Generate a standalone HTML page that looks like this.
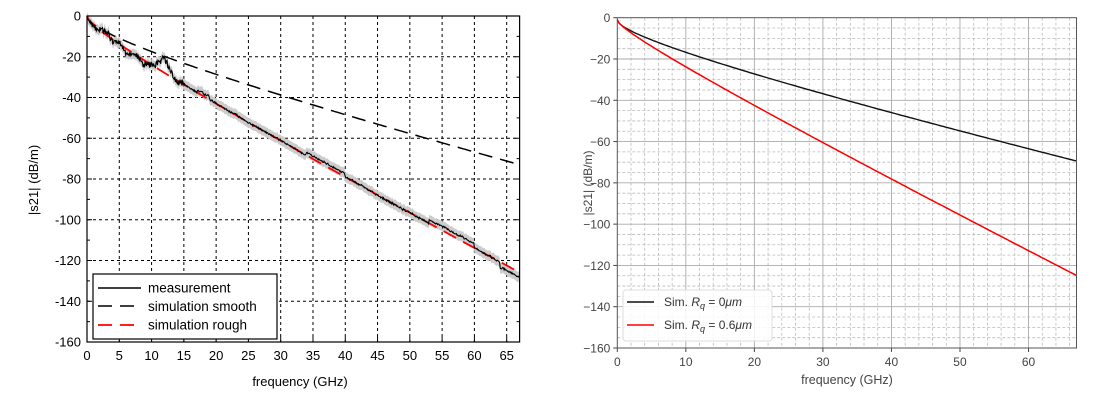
<!DOCTYPE html>
<html><head><meta charset="utf-8"><style>
html,body{margin:0;padding:0;background:#fff;}
svg{display:block;font-family:"Liberation Sans","DejaVu Sans",sans-serif;}
</style></head><body>
<svg id="s" width="1098" height="411" xmlns="http://www.w3.org/2000/svg"></svg>
<script>
const S=document.getElementById('s');let h='';
const L={x0:87,x1:519.6,y0:16,y1:342};
const lx=f=>L.x0+f*(L.x1-L.x0)/67, ly=v=>L.y0-v*(L.y1-L.y0)/160;
for(let f=5;f<=65;f+=5)h+=`<line x1="${lx(f)}" y1="${L.y0}" x2="${lx(f)}" y2="${L.y1}" stroke="#000" stroke-width="1" stroke-dasharray="3,3"/>`;
for(let v=-20;v>=-140;v-=20)h+=`<line x1="${L.x0}" y1="${ly(v)}" x2="${L.x1}" y2="${ly(v)}" stroke="#000" stroke-width="1" stroke-dasharray="3,3"/>`;
for(let v=0;v>=-160;v-=10){const y=ly(v),w=v%20==0?5:3;h+=`<line x1="${L.x0}" y1="${y}" x2="${L.x0+w}" y2="${y}" stroke="#000"/><line x1="${L.x1}" y1="${y}" x2="${L.x1-w}" y2="${y}" stroke="#000"/>`;if(v%20==0)h+=`<text x="${L.x0-6}" y="${y+4.5}" font-size="13" text-anchor="end">${v}</text>`;}
for(let f=0;f<=65;f+=5){const x=lx(f);h+=`<line x1="${x}" y1="${L.y1}" x2="${x}" y2="${L.y1-5}" stroke="#000"/><text x="${x}" y="${L.y1+18}" font-size="13" text-anchor="middle">${f}</text>`;}
let seed=11;const rnd=()=>{seed=(seed*16807)%2147483647;return seed/2147483647-0.5;};
const rough=f=>-(2.69*Math.sqrt(f)+1.55*f);
let pts=[],up=[],dn=[],drift=0;
for(let f=0;f<=67;f+=0.1){
 drift=drift*0.8+rnd()*(f<15?1.2:0.35);
 let v=rough(f)+drift+rnd()*(f<15?3:0.9);
 if(f>4&&f<10)v-=1+1.2*Math.sin(f*2.3);
 if(f>10.5&&f<13.5)v+=6*Math.sin((f-10.5)/3*Math.PI);
 if(f>17&&f<19)v+=1.5;
 if(f>34&&f<40)v+=1.5; if(f>53&&f<60)v+=2; if(f>64)v-=2.5;
 if(f<0.2)v=-1;
 pts.push([lx(f),ly(v)]);up.push([lx(f),ly(v+2.5)]);dn.push([lx(f),ly(v-2.5)]);
}
const P=a=>a.map((p,i)=>(i?'L':'M')+p[0].toFixed(1)+','+p[1].toFixed(1)).join('');
h+=`<path d="${P(up)}L${dn.reverse().map(p=>p[0].toFixed(1)+','+p[1].toFixed(1)).join('L')}Z" fill="#ccc"/>`;
const curve=(fn,fx,fy,a=0)=>{let a2=[];for(let f=a;f<=67;f+=0.25)a2.push([fx(f),fy(fn(f))]);return P(a2);};
h+=`<path d="${curve(f=>-(3.38*Math.sqrt(f)+0.676*f),lx,ly,0)}" fill="none" stroke="#000" stroke-width="1.5" stroke-dasharray="14,8"/>`;
h+=`<path d="${curve(rough,lx,ly)}" fill="none" stroke="#f00" stroke-width="1.8" stroke-dasharray="14,8"/>`;
h+=`<path d="${P(pts)}" fill="none" stroke="#000" stroke-width="1.1"/>`;
h+=`<rect x="${L.x0}" y="${L.y0}" width="${L.x1-L.x0}" height="${L.y1-L.y0}" fill="none" stroke="#000" stroke-width="1.2"/>`;
h+=`<rect x="93" y="274" width="184" height="65" fill="#fff" stroke="#000" stroke-width="1.2"/>`;
h+=`<line x1="98" y1="288" x2="141" y2="288" stroke="#000" stroke-width="1.5"/><text x="148" y="292.5" font-size="13.5">measurement</text>`;
h+=`<line x1="98" y1="306" x2="141" y2="306" stroke="#000" stroke-width="1.5" stroke-dasharray="14,8"/><text x="148" y="311" font-size="13.5">simulation smooth</text>`;
h+=`<line x1="98" y1="325" x2="141" y2="325" stroke="#f00" stroke-width="1.8" stroke-dasharray="14,8"/><text x="148" y="329.5" font-size="13.5">simulation rough</text>`;
h+=`<text x="300" y="386" font-size="13" text-anchor="middle">frequency (GHz)</text>`;
h+=`<text transform="translate(38,180) rotate(-90)" font-size="13" text-anchor="middle">|s21| (dB/m)</text>`;
const R={x0:617.3,x1:1076.5,y0:17.7,y1:348};
const rx=f=>R.x0+f*(R.x1-R.x0)/67, ry=v=>R.y0-v*(R.y1-R.y0)/160;
for(let f=2;f<67;f+=2)if(f%10)h+=`<line x1="${rx(f)}" y1="${R.y0}" x2="${rx(f)}" y2="${R.y1}" stroke="#bbb" stroke-width="0.8" stroke-dasharray="3,2"/>`;
for(let v=-5;v>-160;v-=5)if(v%20)h+=`<line x1="${R.x0}" y1="${ry(v)}" x2="${R.x1}" y2="${ry(v)}" stroke="#bbb" stroke-width="0.8" stroke-dasharray="3,2"/>`;
for(let f=10;f<=60;f+=10)h+=`<line x1="${rx(f)}" y1="${R.y0}" x2="${rx(f)}" y2="${R.y1}" stroke="#aaa" stroke-width="0.9"/>`;
for(let v=-20;v>-160;v-=20)h+=`<line x1="${R.x0}" y1="${ry(v)}" x2="${R.x1}" y2="${ry(v)}" stroke="#aaa" stroke-width="0.9"/>`;
for(let v=0;v>=-160;v-=20){const y=ry(v);h+=`<line x1="${R.x0-4}" y1="${y}" x2="${R.x0}" y2="${y}" stroke="#444"/><text x="${R.x0-7}" y="${y+4.5}" font-size="12" fill="#444" text-anchor="end">${v==0?'0':'\u2212'+(-v)}</text>`;}
for(let f=0;f<=60;f+=10){const x=rx(f);h+=`<line x1="${x}" y1="${R.y1}" x2="${x}" y2="${R.y1+4}" stroke="#444"/><text x="${x}" y="${R.y1+18}" font-size="12" fill="#444" text-anchor="middle">${f}</text>`;}
h+=`<path d="${curve(f=>-1-(2.9*Math.sqrt(f)+0.682*f)*68.5/69.5,rx,ry)}" fill="none" stroke="#111" stroke-width="1.4"/>`;
h+=`<path d="${curve(f=>-1-(2.24*Math.sqrt(f)+1.59*f)*124/125,rx,ry)}" fill="none" stroke="#f00" stroke-width="1.5"/>`;
h+=`<rect x="${R.x0}" y="${R.y0}" width="${R.x1-R.x0}" height="${R.y1-R.y0}" fill="none" stroke="#555" stroke-width="1"/>`;
h+=`<rect x="623" y="290" width="149" height="51" rx="3" fill="#fff" fill-opacity="0.85" stroke="#ddd"/>`;
h+=`<line x1="627" y1="302" x2="654" y2="302" stroke="#111" stroke-width="1.4"/><text x="664" y="306" font-size="12" fill="#333">Sim. <tspan font-style="italic">R</tspan><tspan font-style="italic" font-size="9" dy="3">q</tspan><tspan dy="-3"> = 0</tspan><tspan font-style="italic">μm</tspan></text>`;
h+=`<line x1="627" y1="325" x2="654" y2="325" stroke="#f00" stroke-width="1.5"/><text x="664" y="329" font-size="12" fill="#333">Sim. <tspan font-style="italic">R</tspan><tspan font-style="italic" font-size="9" dy="3">q</tspan><tspan dy="-3"> = 0.6</tspan><tspan font-style="italic">μm</tspan></text>`;
h+=`<text x="847" y="384" font-size="12.5" fill="#444" text-anchor="middle">frequency (GHz)</text>`;
h+=`<text transform="translate(592,183) rotate(-90)" font-size="12" fill="#444" text-anchor="middle">|s21| (dB/m)</text>`;
S.innerHTML=h;
</script>
</body></html>
